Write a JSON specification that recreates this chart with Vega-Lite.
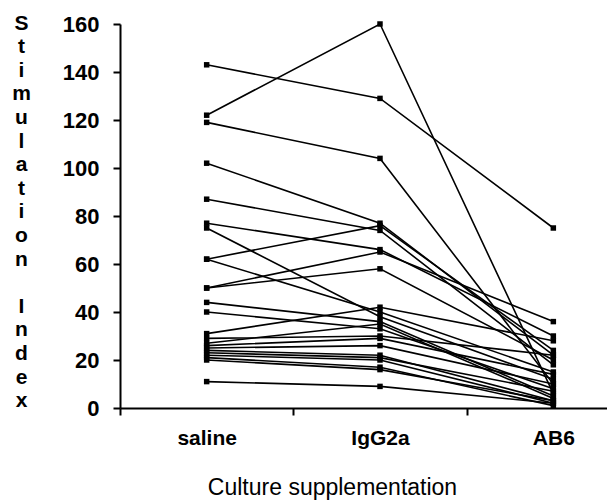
{
  "$schema": "https://vega.github.io/schema/vega-lite/v6.json",
  "width": 487,
  "height": 384,
  "autosize": "none",
  "padding": {"left": 120, "top": 24, "right": 0, "bottom": 92},
  "background": "white",
  "config": {"view": {"stroke": null}, "font": "Liberation Sans"},
  "data": {"values": [
    {"id": 1, "cond": "saline", "si": 143}, {"id": 1, "cond": "IgG2a", "si": 129}, {"id": 1, "cond": "AB6", "si": 75},
    {"id": 2, "cond": "saline", "si": 122}, {"id": 2, "cond": "IgG2a", "si": 160}, {"id": 2, "cond": "AB6", "si": 6},
    {"id": 3, "cond": "saline", "si": 119}, {"id": 3, "cond": "IgG2a", "si": 104}, {"id": 3, "cond": "AB6", "si": 10},
    {"id": 4, "cond": "saline", "si": 102}, {"id": 4, "cond": "IgG2a", "si": 77}, {"id": 4, "cond": "AB6", "si": 22},
    {"id": 5, "cond": "saline", "si": 87}, {"id": 5, "cond": "IgG2a", "si": 74}, {"id": 5, "cond": "AB6", "si": 18},
    {"id": 6, "cond": "saline", "si": 77}, {"id": 6, "cond": "IgG2a", "si": 66}, {"id": 6, "cond": "AB6", "si": 30},
    {"id": 7, "cond": "saline", "si": 75}, {"id": 7, "cond": "IgG2a", "si": 38}, {"id": 7, "cond": "AB6", "si": 12},
    {"id": 8, "cond": "saline", "si": 62}, {"id": 8, "cond": "IgG2a", "si": 76}, {"id": 8, "cond": "AB6", "si": 24},
    {"id": 9, "cond": "saline", "si": 62}, {"id": 9, "cond": "IgG2a", "si": 40}, {"id": 9, "cond": "AB6", "si": 15},
    {"id": 10, "cond": "saline", "si": 50}, {"id": 10, "cond": "IgG2a", "si": 65}, {"id": 10, "cond": "AB6", "si": 36},
    {"id": 11, "cond": "saline", "si": 50}, {"id": 11, "cond": "IgG2a", "si": 58}, {"id": 11, "cond": "AB6", "si": 20},
    {"id": 12, "cond": "saline", "si": 44}, {"id": 12, "cond": "IgG2a", "si": 36}, {"id": 12, "cond": "AB6", "si": 5},
    {"id": 13, "cond": "saline", "si": 40}, {"id": 13, "cond": "IgG2a", "si": 33}, {"id": 13, "cond": "AB6", "si": 8},
    {"id": 14, "cond": "saline", "si": 31}, {"id": 14, "cond": "IgG2a", "si": 42}, {"id": 14, "cond": "AB6", "si": 28},
    {"id": 15, "cond": "saline", "si": 29}, {"id": 15, "cond": "IgG2a", "si": 30}, {"id": 15, "cond": "AB6", "si": 22},
    {"id": 16, "cond": "saline", "si": 27}, {"id": 16, "cond": "IgG2a", "si": 35}, {"id": 16, "cond": "AB6", "si": 4},
    {"id": 17, "cond": "saline", "si": 25}, {"id": 17, "cond": "IgG2a", "si": 26}, {"id": 17, "cond": "AB6", "si": 10},
    {"id": 18, "cond": "saline", "si": 24}, {"id": 18, "cond": "IgG2a", "si": 22}, {"id": 18, "cond": "AB6", "si": 3},
    {"id": 19, "cond": "saline", "si": 23}, {"id": 19, "cond": "IgG2a", "si": 21}, {"id": 19, "cond": "AB6", "si": 7},
    {"id": 20, "cond": "saline", "si": 22}, {"id": 20, "cond": "IgG2a", "si": 20}, {"id": 20, "cond": "AB6", "si": 2},
    {"id": 21, "cond": "saline", "si": 21}, {"id": 21, "cond": "IgG2a", "si": 17}, {"id": 21, "cond": "AB6", "si": 1},
    {"id": 22, "cond": "saline", "si": 20}, {"id": 22, "cond": "IgG2a", "si": 16}, {"id": 22, "cond": "AB6", "si": 3},
    {"id": 23, "cond": "saline", "si": 11}, {"id": 23, "cond": "IgG2a", "si": 9}, {"id": 23, "cond": "AB6", "si": 2},
    {"id": 24, "cond": "saline", "si": 26}, {"id": 24, "cond": "IgG2a", "si": 29}, {"id": 24, "cond": "AB6", "si": 14}
  ]},
  "encoding": {
    "x": {
      "field": "cond", "type": "nominal",
      "scale": {"domain": ["saline", "IgG2a", "AB6"], "range": [0, 520], "paddingInner": 0, "paddingOuter": 0},
      "axis": {
        "title": "Culture supplementation",
        "titleFontSize": 23, "titleFontWeight": "normal", "titleColor": "black",
        "titleX": 212, "titleY": 86, "titleAlign": "center", "titleBaseline": "alphabetic",
        "labelAngle": 0, "labelFontSize": 21, "labelFontWeight": "bold", "labelColor": "black",
        "labelPadding": 12,
        "tickBand": "extent", "tickSize": 7, "tickWidth": 2, "tickColor": "black",
        "domainColor": "black", "domainWidth": 2, "grid": false
      }
    },
    "y": {
      "field": "si", "type": "quantitative",
      "scale": {"domain": [0, 160], "nice": false, "zero": true},
      "axis": {
        "values": [0, 20, 40, 60, 80, 100, 120, 140, 160],
        "title": ["S", "t", "i", "m", "u", "l", "a", "t", "i", "o", "n", "\u200b", "I", "n", "d", "e", "x"],
        "titleAngle": 0, "titleFontSize": 21, "titleFontWeight": "bold", "titleColor": "black",
        "titleLineHeight": 23.6, "titleAlign": "center", "titleBaseline": "top",
        "titleX": -99, "titleY": -12,
        "labelFontSize": 22, "labelFontWeight": "bold", "labelColor": "black", "labelPadding": 14,
        "tickSize": 7, "tickWidth": 2, "tickColor": "black",
        "domainColor": "black", "domainWidth": 2, "grid": false
      }
    }
  },
  "layer": [
    {"mark": {"type": "line", "color": "black", "strokeWidth": 1.6}, "encoding": {"detail": {"field": "id", "type": "nominal"}}},
    {"mark": {"type": "point", "shape": "square", "filled": true, "color": "black", "opacity": 1, "size": 30}}
  ]
}
